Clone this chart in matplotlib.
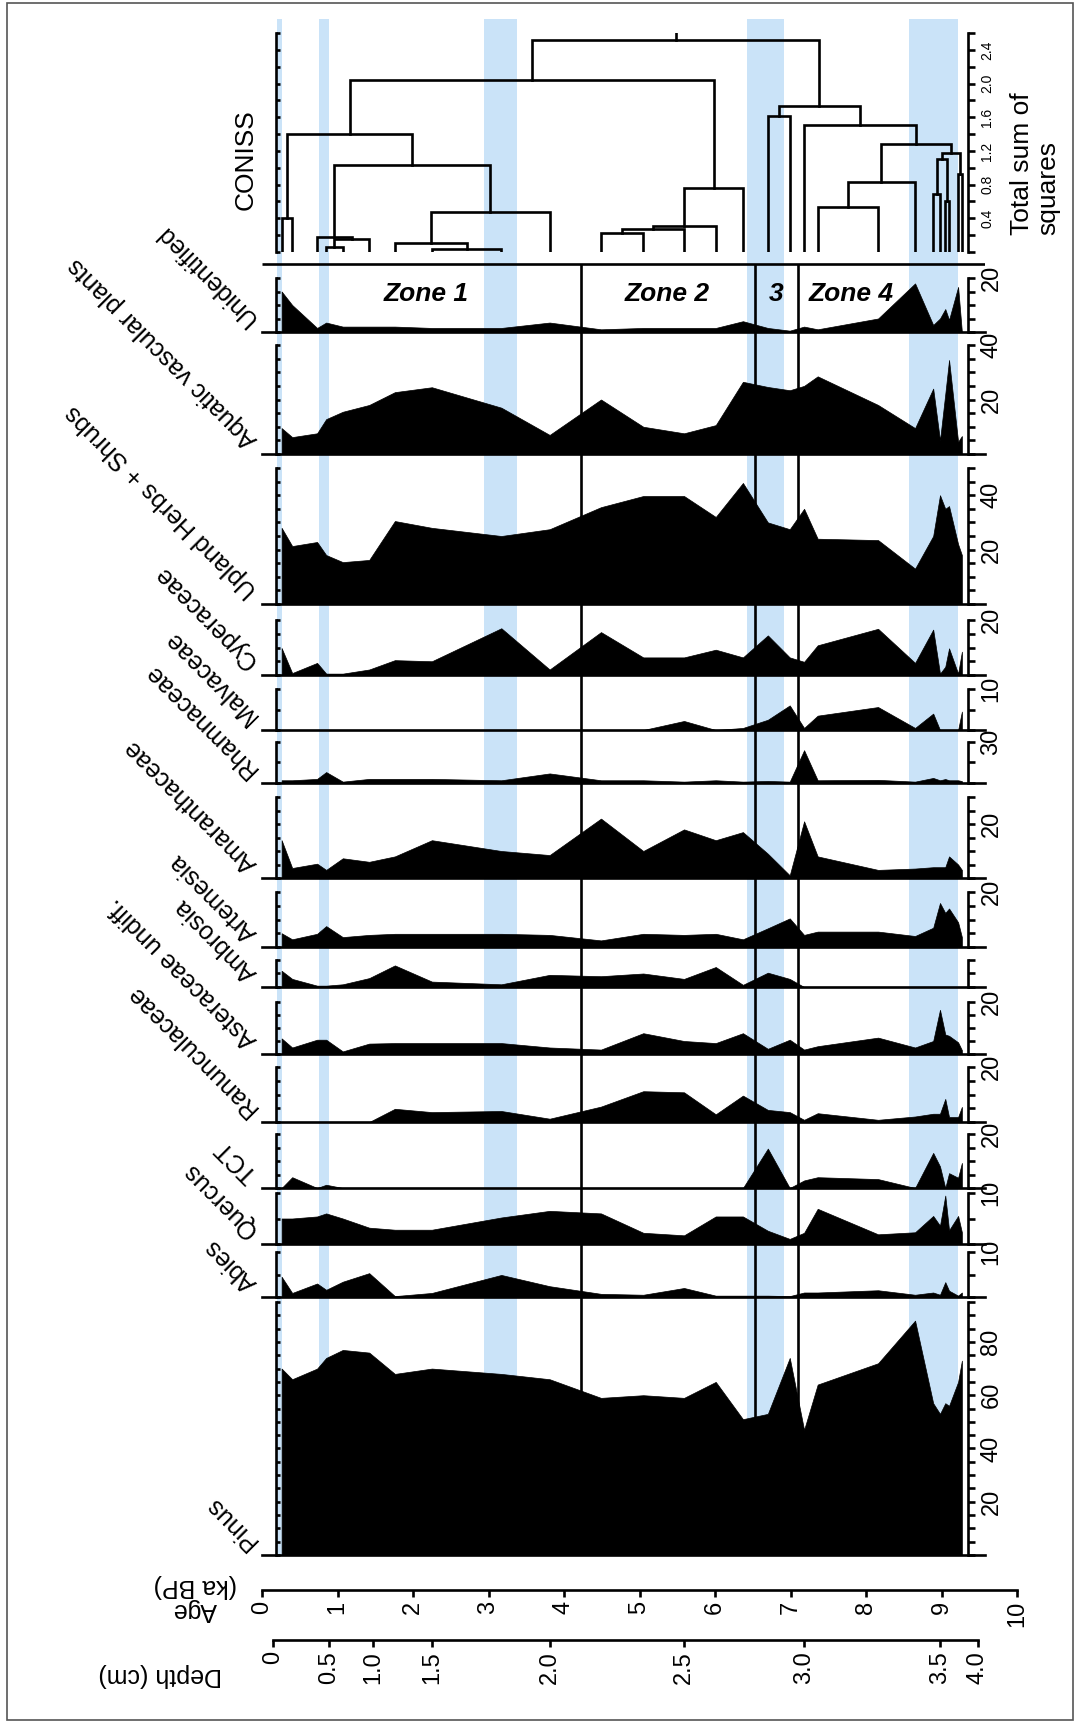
import matplotlib.pyplot as plt
from matplotlib.patches import Rectangle

plt.rcParams['font.family'] = ['Liberation Sans', 'DejaVu Sans']

# ---------------- data ----------------
sample_ages = [0.26, 0.40, 0.73, 0.85, 1.07, 1.42, 1.76, 2.25, 3.17, 3.81, 4.49, 5.05, 5.59, 6.01,
               6.37, 6.70, 6.99, 7.18, 7.36, 8.16, 8.65, 8.89, 8.98, 9.05, 9.10, 9.22, 9.27]

taxa = ["Unidentified", "Aquatic vascular plants", "Upland Herbs + Shrubs", "Cyperaceae",
        "Malvaceae", "Rhamnaceae", "Amaranthaceae", "Artemesia", "Ambrosia",
        "Asteraceae undiff.", "Ranunculaceae", "TCT", "Quercus", "Abies", "Pinus"]

unidentified = [15, 10, 1.5, 3.5, 2, 2, 2, 1.5, 1.5, 3.5, 1, 1.5, 1.5, 1.5, 4, 1.5, 0.5, 2, 1, 5,
                18, 2.6, 5, 8.5, 4.5, 16.7, 0]
aquatic = [9.5, 6.2, 7.6, 12.8, 15.5, 18, 22.7, 24.5, 17, 7, 20, 10, 7.6, 10.6, 26.5, 24.6, 23.4,
           25, 28.5, 18, 9.5, 24, 5, 22, 34.5, 4.5, 6.6]
upland = [28, 21.3, 22.8, 18, 15.4, 16.2, 30.5, 28, 25, 27.5, 35.6, 39.7, 39.7, 32, 44.5, 30, 27.5,
          35, 24, 23.5, 13, 25, 40, 35, 36, 22, 18]
cyperaceae = [9.8, 0.7, 4.4, 0.5, 0.5, 2, 5.4, 5, 17, 2, 15.6, 6.4, 6.4, 9.2, 6.4, 14.4, 6.4, 4.8,
              10.8, 16.8, 4.4, 16.5, 0.5, 3, 9.7, 0.5, 8.5]
malvaceae = [0, 0, 0, 0, 0, 0, 0, 0, 0, 0, 0, 0, 2.2, 0, 0.5, 2.5, 6, 0.5, 3.5, 5.6, 0.5, 4, 0, 0,
             0, 0, 4.5]
rhamnaceae = [2, 2, 3, 8, 1, 3, 3, 3, 2, 7, 2, 2, 1, 2, 1, 1.5, 1, 24, 2, 2.3, 1, 3.7, 2, 2.9, 2,
              2, 1.4]
amaranthaceae = [14, 3.7, 5.3, 3, 7.3, 6, 8, 14, 10, 8.5, 22, 10, 18, 14, 17, 9, 1, 21, 8, 3,
                 3.5, 4, 4, 4, 8, 5, 3]
artemesia = [5, 2.8, 4.8, 7.6, 3.6, 4.4, 4.8, 4.8, 4.8, 4.4, 2.4, 4.8, 4.4, 4.8, 2.8, 6.8, 10.4,
             4.4, 5.6, 5.6, 4, 7, 16, 12.4, 14, 9, 3.6]
ambrosia = [6, 3, 0.5, 0.5, 1, 3.3, 8, 2, 1, 4.5, 4, 5, 3, 7.4, 0.8, 5.3, 3, 0, 0, 0, 0, 0, 0, 0,
            0, 0, 0]
asteraceae = [6, 2.5, 5.5, 5.5, 1, 4, 4.2, 4.2, 4.2, 2.5, 1.7, 8, 5, 4.2, 8, 2, 5.5, 1.7, 3, 6.3,
              2.5, 5, 17, 7.5, 7, 4.5, 1.5]
ranunculaceae = [0, 0, 0, 0, 0, 0, 4.8, 3.6, 4, 1.2, 5.6, 11.2, 10.8, 2.8, 9.6, 4.4, 3.6, 0.8, 3.2,
                 0.8, 2, 3, 3, 8.4, 1.8, 1.8, 5.5]
tct = [0, 4, 0, 1.2, 0, 0, 0, 0, 0, 0, 0, 0, 0, 0, 0, 14.6, 0, 2.8, 4, 3.3, 0, 13, 8, 0, 5.5, 3.8,
       9.3]
quercus = [5, 5, 5.4, 6, 5, 3.2, 2.8, 2.8, 5.2, 6.5, 6, 2.2, 1.7, 5.4, 5.4, 2.6, 1, 2.2, 6.9, 1.9,
           2.3, 5.5, 3.6, 9.5, 2.7, 5.5, 2.3]
abies = [4.5, 0.9, 3, 1.6, 3.4, 5.3, 0.2, 0.9, 4.9, 2.4, 0.7, 0.5, 2, 0.3, 0.3, 0.3, 0.2, 1, 1, 1.5,
         0.5, 1, 0.5, 3.3, 1.4, 0.3, 1]
pinus = [70, 66, 70, 74, 77, 76, 68, 70, 68, 66, 59, 60, 59, 65, 51, 53, 74, 47, 64, 72, 88, 57,
         53, 57, 56, 65, 73]

series = [unidentified, aquatic, upland, cyperaceae, malvaceae, rhamnaceae, amaranthaceae,
          artemesia, ambrosia, asteraceae, ranunculaceae, tct, quercus, abies, pinus]
panel_max = [20, 40, 50, 20, 10, 30, 30, 20, 10, 20, 20, 20, 10, 10, 95]
tick_step = [5, 5, 5, 5, 5, 15, 5, 5, 5, 5, 5, 5, 5, 5, 5]
tick_labels = [[20], [20, 40], [20, 40], [20], [10], [30], [20], [20], [], [20], [20], [20],
               [10], [10], [20, 40, 60, 80]]

# CONISS merges: (left, right, total sum of squares); new clusters numbered from 27
coniss_merges = [(0, 1, 0.40), (3, 4, 0.06), (28, 5, 0.15), (2, 29, 0.18), (7, 8, 0.03),
                 (6, 31, 0.11), (32, 9, 0.48), (30, 33, 1.03), (27, 34, 1.40), (10, 11, 0.22),
                 (36, 12, 0.27), (37, 13, 0.31), (38, 14, 0.76), (35, 39, 2.04), (15, 16, 1.61),
                 (18, 19, 0.54), (42, 20, 0.83), (21, 22, 0.69), (23, 24, 0.60), (44, 45, 1.11),
                 (25, 26, 0.93), (46, 47, 1.18), (43, 48, 1.28), (17, 49, 1.51), (41, 50, 1.73),
                 (40, 51, 2.52)]
coniss_top = 2.6

bands = [(0.20, 0.26), (0.76, 0.89), (2.94, 3.38), (6.42, 6.91), (8.57, 9.22)]
zone_bounds = [4.23, 6.53, 7.10]
zone_names = ["Zone 1", "Zone 2", "3", "Zone 4"]
zone_centres = [2.17, 5.36, 6.81, 7.80]

age_ticks = list(range(0, 11))
depth_labels = ["0", "0.5", "1.0", "1.5", "2.0", "2.5", "3.0", "3.5", "4.0"]
depth_ages = [0.15, 0.89, 1.47, 2.25, 3.81, 5.59, 7.18, 8.98, 9.48]

# ---------------- layout (pixels, from top-left) ----------------
W, H = 1080, 1723
X0, X1, PX_KA = 262, 985, 75.5
XMAX = (X1 - X0) / PX_KA
LEFT_SPINE = (276 - X0) / PX_KA
RIGHT_SPINE = (968 - X0) / PX_KA
panel_px = [(278, 332), (345, 454), (468, 604), (620, 675), (689, 730), (742, 783), (797, 878),
            (892, 947), (960, 987), (1002, 1054), (1067, 1122), (1134, 1188), (1193, 1244),
            (1252, 1297), (1302, 1555)]
LW = 1.9
BLUE = '#cae3f8'


def fbox(x0, y0, x1, y1):
    return [x0 / W, 1 - y1 / H, (x1 - x0) / W, (y1 - y0) / H]


fig = plt.figure(figsize=(W / 100, H / 100), dpi=100)

# background: bands, zone lines, zone names
bg = fig.add_axes(fbox(X0, 19, X1, 1555))
bg.set_xlim(0, XMAX)
bg.set_ylim(1555, 19)
bg.axis('off')
for a0, a1 in bands:
    bg.axvspan(a0, a1, color=BLUE, lw=0)
bg.vlines(zone_bounds, 264, 1555, color='black', lw=LW)
bg.hlines(264, 0, XMAX, color='black', lw=LW)
for name, xc in zip(zone_names, zone_centres):
    bg.text(xc, 294, name, ha='center', va='center', fontsize=19, fontweight='bold',
            fontstyle='italic')


def side_axes(ax, ymax, ticks, labels, size=17):
    ax.set_xlim(0, XMAX)
    ax.set_ylim(0, ymax)
    ax.patch.set_alpha(0)
    for s in ['top', 'right']:
        ax.spines[s].set_visible(False)
    ax.spines['left'].set_position(('data', LEFT_SPINE))
    ax.spines['left'].set_bounds(0, ymax)
    ax.spines['left'].set_linewidth(LW)
    ax.spines['bottom'].set_linewidth(LW)
    ax.set_xticks([])
    ax.set_yticks(ticks)
    ax.tick_params(axis='y', direction='in', length=3, width=LW, labelleft=False)
    tw = ax.twinx()
    tw.set_ylim(0, ymax)
    tw.patch.set_alpha(0)
    for s in ['top', 'left', 'bottom']:
        tw.spines[s].set_visible(False)
    tw.spines['right'].set_position(('data', RIGHT_SPINE))
    tw.spines['right'].set_bounds(0, ymax)
    tw.spines['right'].set_linewidth(LW)
    tw.set_yticks(ticks)
    tw.set_yticklabels(labels)
    tw.tick_params(axis='y', direction='out', length=5, width=LW, pad=4, labelsize=size,
                   labelrotation=90)
    for t in tw.get_yticklabels():
        t.set_va('center')
    return tw


# CONISS panel
cax = fig.add_axes(fbox(X0, 33, X1, 252))
cticks = [round(0.2 * i, 1) for i in range(14)]
clabels = [f"{t:.1f}" if t in (0.4, 0.8, 1.2, 1.6, 2.0, 2.4) else "" for t in cticks]
side_axes(cax, coniss_top, cticks, clabels, size=10)
cax.spines['bottom'].set_visible(False)
xpos = list(sample_ages)
hgt = [0.0] * len(sample_ages)
for a, b, h in coniss_merges:
    cax.plot([xpos[a], xpos[a], xpos[b], xpos[b]], [hgt[a], h, h, hgt[b]], color='black', lw=LW,
             solid_joinstyle='miter')
    xpos.append((xpos[a] + xpos[b]) / 2)
    hgt.append(h)
cax.plot([xpos[-1], xpos[-1]], [hgt[-1], coniss_top], color='black', lw=LW)
fig.text(246 / W, 1 - 160 / H, "CONISS", rotation=90, ha='center', va='center', fontsize=19)
fig.text(1035 / W, 1 - 235 / H, "Total sum of\nsquares", rotation=90, ha='center', va='bottom',
         fontsize=19, multialignment='left', linespacing=1.1)

# taxa panels
for name, vals, ymax, step, labs, (top, base) in zip(taxa, series, panel_max, tick_step,
                                                      tick_labels, panel_px):
    ax = fig.add_axes(fbox(X0, top, X1, base))
    ticks = list(range(0, ymax + 1, step))
    side_axes(ax, ymax, ticks, [str(t) if t in labs else "" for t in ticks])
    ax.fill_between(sample_ages, 0, vals, color='black', lw=0.5)
    fig.text(245 / W, 1 - (base - 2) / H, name, rotation=135, rotation_mode='anchor',
             ha='left', va='top', fontsize=18)

# age axis
aax = fig.add_axes(fbox(262, 1540, 1017, 1590))
aax.set_xlim(0, 10)
aax.patch.set_alpha(0)
for s in ['top', 'left', 'right']:
    aax.spines[s].set_visible(False)
aax.spines['bottom'].set_linewidth(LW)
aax.set_yticks([])
aax.set_xticks(age_ticks)
aax.set_xticklabels([str(t) for t in age_ticks], rotation=90)
aax.tick_params(axis='x', direction='out', length=5, width=LW, labelsize=17, pad=3)
fig.text(195 / W, 1 - 1598 / H, "Age\n(ka BP)", rotation=180, ha='center', va='center',
         fontsize=18, multialignment='center', linespacing=1.05)

# depth axis
dax = fig.add_axes(fbox(262, 1600, 1017, 1640))
dax.set_xlim(0, 10)
dax.patch.set_alpha(0)
for s in ['top', 'left', 'right']:
    dax.spines[s].set_visible(False)
dax.spines['bottom'].set_linewidth(LW)
dax.spines['bottom'].set_bounds(depth_ages[0], depth_ages[-1])
dax.set_yticks([])
dax.set_xticks(depth_ages)
dax.set_xticklabels(depth_labels, rotation=90)
dax.tick_params(axis='x', direction='out', length=5, width=LW, labelsize=17, pad=3)
fig.text(160 / W, 1 - 1675 / H, "Depth (cm)", rotation=180, ha='center', va='center',
         fontsize=18)

# frame
fig.patches.append(Rectangle((7 / W, 1 - 1720 / H), 1066 / W, 1717 / H, fill=False,
                             edgecolor='#555555', lw=1.2, transform=fig.transFigure))

fig.savefig("out.png", dpi=100)
